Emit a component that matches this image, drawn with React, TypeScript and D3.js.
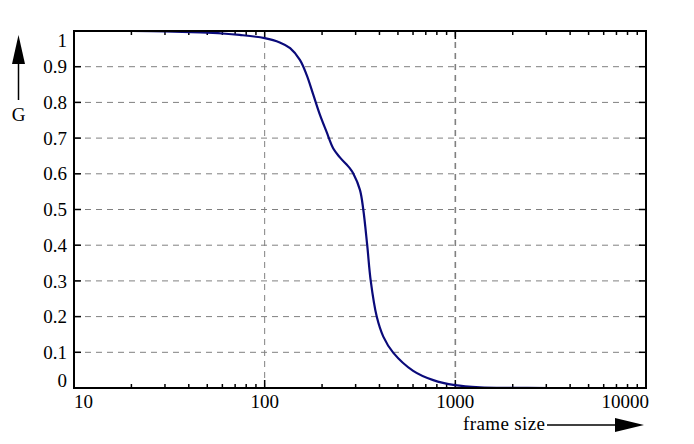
import React, { useEffect, useRef } from 'react';
import * as d3 from 'd3';

// frame size vs G
const frameSizes = [20, 30, 46, 60, 74, 100, 120, 136, 153, 166, 180, 195, 211, 229, 248, 280, 292, 316, 329, 345, 360, 387, 419, 472, 601, 766, 995, 1346, 2000, 3100];
const gValues = [1.0, 0.999, 0.996, 0.993, 0.989, 0.98, 0.968, 0.952, 0.919, 0.877, 0.821, 0.765, 0.718, 0.671, 0.646, 0.615, 0.6, 0.555, 0.5, 0.4, 0.3, 0.2, 0.144, 0.099, 0.048, 0.022, 0.008, 0.002, 0.0005, 0.0];

const xTickValues = [10, 100, 1000, 10000];
const xTickLabels = ['10', '100', '1000', '10000'];
const yTickValues = [0, 0.1, 0.2, 0.3, 0.4, 0.5, 0.6, 0.7, 0.8, 0.9, 1];
const yTickLabels = ['0', '0.1', '0.2', '0.3', '0.4', '0.5', '0.6', '0.7', '0.8', '0.9', '1'];

const FONT = '"Liberation Serif", "DejaVu Serif", serif';

export default function App() {
  const svgRef = useRef<SVGSVGElement>(null);

  useEffect(() => {
    if (!svgRef.current) return;
    const svg = d3.select(svgRef.current);
    svg.selectAll('*').remove();

    const left = 74, right = 646, top = 31, bottom = 388;

    const x = d3.scaleLog().domain([10, 10000]).range([left, right]);
    const y = d3.scaleLinear().domain([0, 1]).range([bottom, top]);

    // grid
    const grid = svg.append('g')
      .attr('stroke', '#808080')
      .attr('stroke-width', 1)
      .attr('stroke-dasharray', '6,5');
    yTickValues.slice(1, -1).forEach(v => {
      grid.append('line')
        .attr('x1', left).attr('x2', right)
        .attr('y1', y(v)).attr('y2', y(v));
    });
    [100, 1000].forEach(v => {
      grid.append('line')
        .attr('x1', x(v)).attr('x2', x(v))
        .attr('y1', top).attr('y2', bottom)
        .attr('stroke-width', v === 1000 ? 1.6 : 1);
    });

    // ticks (inward, all four sides)
    const ticks = svg.append('g').attr('stroke', '#000').attr('stroke-width', 1.5);
    const minor: number[] = [];
    [10, 100, 1000].forEach(d => {
      for (let k = 2; k <= 9; k++) minor.push(d * k);
    });
    minor.forEach(v => {
      ticks.append('line').attr('x1', x(v)).attr('x2', x(v)).attr('y1', bottom).attr('y2', bottom - 4);
      ticks.append('line').attr('x1', x(v)).attr('x2', x(v)).attr('y1', top).attr('y2', top + 4);
    });
    [100, 1000].forEach(v => {
      ticks.append('line').attr('x1', x(v)).attr('x2', x(v)).attr('y1', bottom).attr('y2', bottom - 8);
      ticks.append('line').attr('x1', x(v)).attr('x2', x(v)).attr('y1', top).attr('y2', top + 8);
    });
    yTickValues.slice(1, -1).forEach(v => {
      ticks.append('line').attr('x1', left).attr('x2', left + 7).attr('y1', y(v)).attr('y2', y(v));
      ticks.append('line').attr('x1', right).attr('x2', right - 7).attr('y1', y(v)).attr('y2', y(v));
    });

    // curve
    const pts = frameSizes.map((f, i) => [f, gValues[i]] as [number, number]);
    const line = d3.line<[number, number]>()
      .x(d => x(d[0]))
      .y(d => y(d[1]))
      .curve(d3.curveCatmullRom.alpha(0.5));
    svg.append('path')
      .datum(pts)
      .attr('d', line)
      .attr('fill', 'none')
      .attr('stroke', '#0a0a7a')
      .attr('stroke-width', 2.2);

    // frame
    svg.append('rect')
      .attr('x', left).attr('y', top)
      .attr('width', right - left).attr('height', bottom - top)
      .attr('fill', 'none')
      .attr('stroke', '#000')
      .attr('stroke-width', 2);

    // tick labels
    const labels = svg.append('g')
      .attr('font-family', FONT)
      .attr('font-size', 19)
      .attr('fill', '#000');
    yTickValues.forEach((v, i) => {
      let yy = y(v);
      if (i === 0) yy -= 8;
      if (i === yTickValues.length - 1) yy += 9;
      labels.append('text')
        .attr('x', left - 7)
        .attr('y', yy)
        .attr('dy', '0.35em')
        .attr('text-anchor', 'end')
        .text(yTickLabels[i]);
    });
    xTickValues.forEach((v, i) => {
      const anchor = i === 0 ? 'start' : i === xTickValues.length - 1 ? 'end' : 'middle';
      labels.append('text')
        .attr('x', x(v) + (i === xTickValues.length - 1 ? 3 : 0))
        .attr('y', 401)
        .attr('dy', '0.35em')
        .attr('text-anchor', anchor)
        .text(xTickLabels[i]);
    });

    // axis names with arrows
    svg.append('line')
      .attr('x1', 18.5).attr('x2', 18.5).attr('y1', 100).attr('y2', 60)
      .attr('stroke', '#000').attr('stroke-width', 1.5);
    svg.append('path')
      .attr('d', 'M18.5,35 L12,64 L25,64 Z')
      .attr('fill', '#000');
    labels.append('text')
      .attr('x', 18.5).attr('y', 114)
      .attr('dy', '0.35em')
      .attr('text-anchor', 'middle')
      .text('G');

    labels.append('text')
      .attr('x', 463).attr('y', 430)
      .attr('textLength', 82)
      .text('frame size');
    svg.append('line')
      .attr('x1', 547).attr('x2', 620).attr('y1', 425).attr('y2', 425)
      .attr('stroke', '#000').attr('stroke-width', 1.5);
    svg.append('path')
      .attr('d', 'M644,425 L615,418 L615,432 Z')
      .attr('fill', '#000');
  }, []);

  return (
    <svg
      ref={svgRef}
      width={694}
      height={444}
      style={{ position: 'absolute', left: 0, top: 0, background: '#fff' }}
    />
  );
}
